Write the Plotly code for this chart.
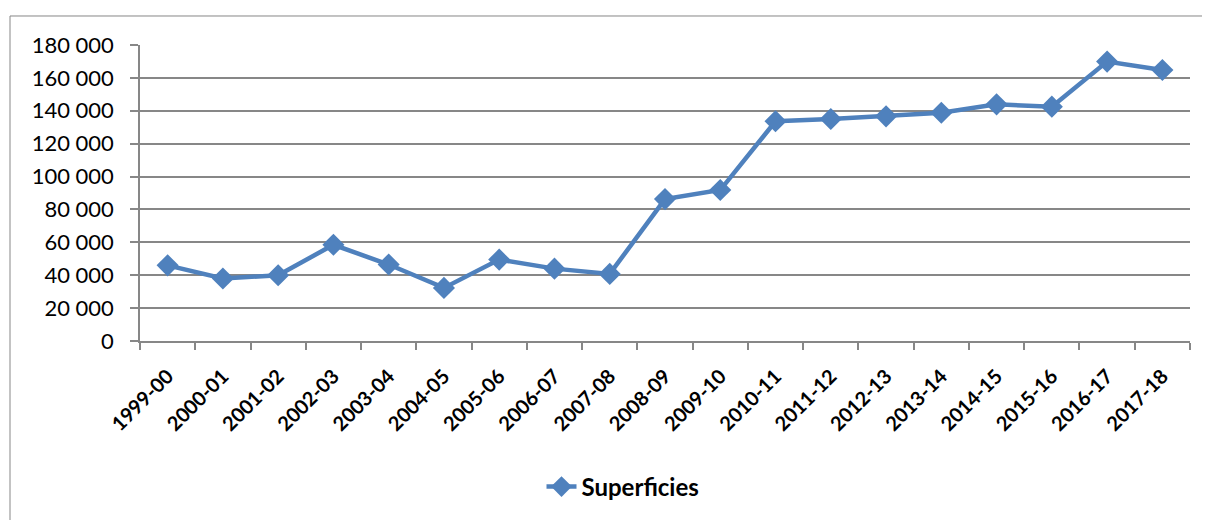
import plotly.graph_objects as go

categories = ["1999-00", "2000-01", "2001-02", "2002-03", "2003-04", "2004-05",
              "2005-06", "2006-07", "2007-08", "2008-09", "2009-10", "2010-11",
              "2011-12", "2012-13", "2013-14", "2014-15", "2015-16", "2016-17", "2017-18"]
superficies = [46000, 38000, 40000, 58500, 46500, 32300, 49500, 44000, 40800,
               86300, 91800, 133600, 135000, 136600, 138800, 143900, 142500, 169900, 164800]
y_ticks = [0, 20000, 40000, 60000, 80000, 100000, 120000, 140000, 160000, 180000]

BLUE = "#4F81BD"
GRID = "#878787"
FONT = "Lato"

fig = go.Figure()
fig.add_trace(go.Scatter(
    x=categories, y=superficies, mode="lines+markers", name="Superficies",
    line=dict(color=BLUE, width=4.5),
    marker=dict(symbol="diamond", size=17, color=BLUE),
))

fig.update_layout(
    width=1202, height=512,
    margin=dict(l=132, r=20, t=37, b=179, autoexpand=False),
    paper_bgcolor="white", plot_bgcolor="white",
    separators=", ",
    font=dict(family=FONT, color="black"),
    showlegend=True,
    legend=dict(orientation="h", x=0.46, xanchor="center", y=-0.493, yanchor="middle",
                font=dict(family=FONT, size=24, color="black", weight="bold"),
                bgcolor="rgba(0,0,0,0)"),
    xaxis=dict(
        type="category", range=[-0.5, len(categories) - 0.5], automargin=False,
        showgrid=False, showline=True, linecolor=GRID, linewidth=1.5,
        ticks="outside", tickson="boundaries", ticklen=7, tickcolor=GRID, tickwidth=1.5,
        tickangle=-45, ticklabelstandoff=14,
        tickfont=dict(family=FONT, size=20, color="black", weight="bold"),
    ),
    yaxis=dict(
        range=[0, 180000], tickvals=y_ticks, tickformat=",d", automargin=False,
        showgrid=True, gridcolor=GRID, gridwidth=1.5,
        showline=True, linecolor=GRID, linewidth=1.5, zeroline=False,
        ticks="outside", ticklen=8, tickcolor=GRID, tickwidth=1.5, ticklabelstandoff=12,
        tickfont=dict(family=FONT, size=22, color="black"),
    ),
    shapes=[dict(type="rect", xref="paper", yref="paper",
                 x0=-0.1238, x1=1.03, y0=-0.65, y1=1.098,
                 line=dict(color=GRID, width=1), fillcolor="rgba(0,0,0,0)", layer="below")],
)

fig.write_html("out.html")
